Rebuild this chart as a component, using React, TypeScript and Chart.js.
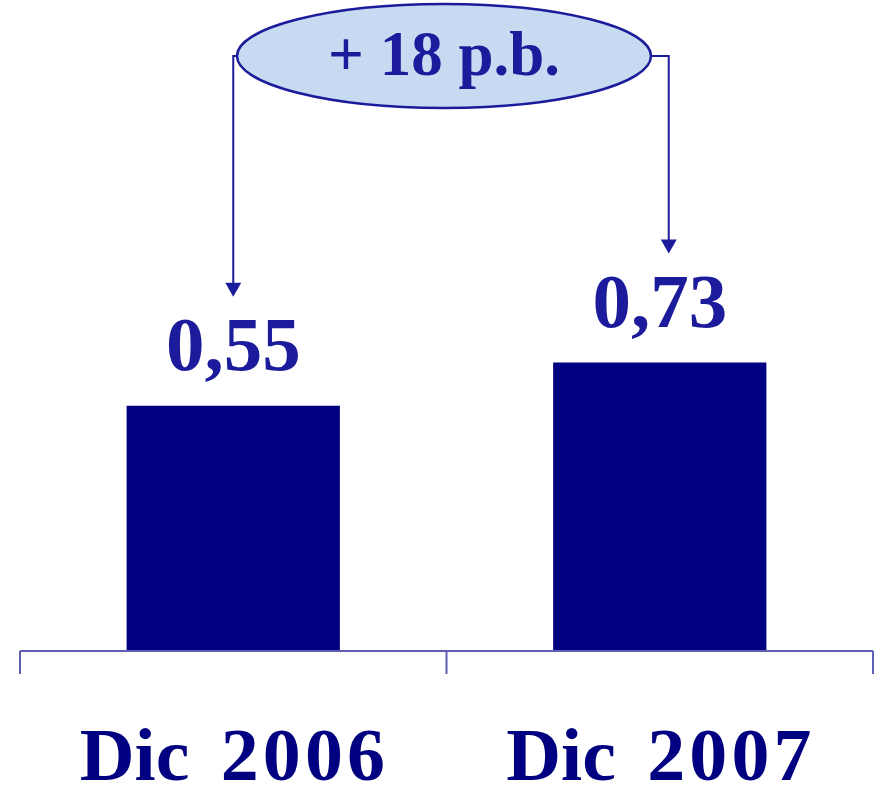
import React, { useEffect, useRef } from "react";
import { Chart, registerables } from "chart.js";

Chart.register(...registerables);

const categories: string[] = ["Dic 2006", "Dic 2007"];
const values: number[] = [0.55, 0.73];
const valueLabels: string[] = ["0,55", "0,73"];
const changeLabel = "+ 18 p.b.";
const Y_MIN = -0.47;
const Y_MAX = 2.0;

const NAVY = "#000080";
const TEXT_BLUE = "#1B1B9B";
const AXIS = "#5E5EB2";
const ELLIPSE_FILL = "#C6DBF2";
const SERIF = '"Liberation Serif", "Times New Roman", serif';

const overlayPlugin = {
  id: "overlay",
  afterDatasetsDraw(chart: any) {
    const { ctx, chartArea } = chart;
    const meta = chart.getDatasetMeta(0);
    const bars = meta.data as any[];
    const c0 = bars[0].x;
    const c1 = bars[1].x;
    const mid = (c0 + c1) / 2;
    const axisY = chartArea.bottom;

    ctx.save();
    // axis line and ticks
    ctx.strokeStyle = AXIS;
    ctx.lineWidth = 2;
    ctx.beginPath();
    ctx.moveTo(chartArea.left, axisY);
    ctx.lineTo(chartArea.right, axisY);
    [chartArea.left, mid, chartArea.right].forEach((x: number) => {
      ctx.moveTo(x, axisY);
      ctx.lineTo(x, axisY + 23);
    });
    ctx.stroke();

    // category labels
    ctx.fillStyle = NAVY;
    ctx.font = `bold 73px ${SERIF}`;
    ctx.textBaseline = "alphabetic";
    ctx.textAlign = "left";
    categories.forEach((cat, i) => {
      const sp = cat.indexOf(" ");
      const word = cat.slice(0, sp);
      const year = cat.slice(sp + 1);
      const x0 = bars[i].x - 153.5;
      const by = axisY + 129;
      ctx.save();
      ctx.translate(x0, by);
      ctx.scale(1.04, 1);
      (ctx as any).letterSpacing = "0px";
      ctx.fillText(word, 0, 0);
      ctx.restore();
      ctx.save();
      ctx.translate(x0 + 141, by);
      ctx.scale(1.04, 1);
      (ctx as any).letterSpacing = "4px";
      ctx.fillText(year, 0, 0);
      (ctx as any).letterSpacing = "0px";
      ctx.restore();
    });

    // value labels
    ctx.fillStyle = TEXT_BLUE;
    ctx.font = `bold 77px ${SERIF}`;
    ctx.textAlign = "center";
    valueLabels.forEach((lab, i) => {
      ctx.fillText(lab, bars[i].x, bars[i].y - 35.5);
    });

    // arrows
    const ex = mid - 2.5;
    const ey = 56;
    const rx = 207;
    const ry = 52;
    const lx = c0;
    const rxLine = c1 + 9;
    const tip0 = bars[0].y - 109;
    const tip1 = bars[1].y - 109;
    ctx.strokeStyle = TEXT_BLUE;
    ctx.lineWidth = 2;
    ctx.beginPath();
    ctx.moveTo(ex - rx + 2, ey);
    ctx.lineTo(lx, ey);
    ctx.lineTo(lx, tip0 - 12);
    ctx.moveTo(ex + rx - 2, ey);
    ctx.lineTo(rxLine, ey);
    ctx.lineTo(rxLine, tip1 - 12);
    ctx.stroke();
    ctx.fillStyle = TEXT_BLUE;
    [[lx, tip0], [rxLine, tip1]].forEach(([x, t]) => {
      ctx.beginPath();
      ctx.moveTo(x, t);
      ctx.lineTo(x - 8, t - 14);
      ctx.lineTo(x + 8, t - 14);
      ctx.closePath();
      ctx.fill();
    });

    // ellipse
    ctx.beginPath();
    ctx.ellipse(ex, ey, rx, ry, 0, 0, Math.PI * 2);
    ctx.fillStyle = ELLIPSE_FILL;
    ctx.fill();
    ctx.lineWidth = 2.5;
    ctx.strokeStyle = TEXT_BLUE;
    ctx.stroke();

    ctx.fillStyle = TEXT_BLUE;
    ctx.font = `bold 63px ${SERIF}`;
    ctx.textAlign = "center";
    ctx.fillText(changeLabel, ex, 75);
    ctx.restore();
  },
};

export default function App() {
  const ref = useRef<HTMLCanvasElement | null>(null);
  useEffect(() => {
    if (!ref.current) return;
    const chart = new Chart(ref.current, {
      type: "bar",
      data: {
        labels: categories,
        datasets: [
          {
            data: values,
            backgroundColor: NAVY,
            borderWidth: 0,
            base: Y_MIN,
            barPercentage: 0.5,
            categoryPercentage: 1,
          } as any,
        ],
      },
      options: {
        responsive: false,
        animation: false,
        devicePixelRatio: 1,
        layout: { padding: { left: 20, right: 5, top: 57, bottom: 134 } },
        plugins: { legend: { display: false }, tooltip: { enabled: false } },
        scales: {
          x: { display: false },
          y: { display: false, min: Y_MIN, max: Y_MAX },
        },
      },
      plugins: [overlayPlugin],
    });
    return () => chart.destroy();
  }, []);
  return (
    <div style={{ position: "absolute", left: 0, top: 0, width: 878, height: 785, background: "#fff" }}>
      <canvas ref={ref} width={878} height={785} />
    </div>
  );
}
